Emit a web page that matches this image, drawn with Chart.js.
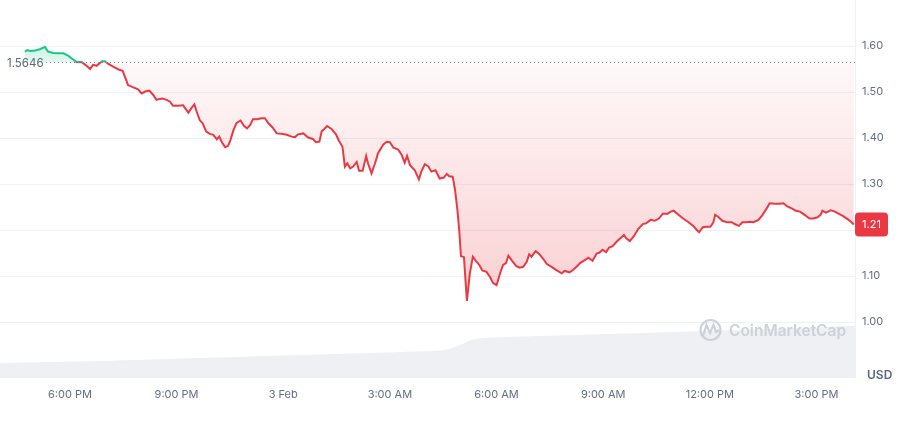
<!DOCTYPE html>
<html><head><meta charset="utf-8">
<script src="https://cdn.jsdelivr.net/npm/chart.js@4.4.1/dist/chart.umd.min.js"></script>
<style>html,body{margin:0;padding:0;background:#fff}#wrap{width:905px;height:426px;position:relative}</style>
</head><body><div id="wrap"><canvas id="c" width="905" height="426"></canvas></div>
<script>
// minutes since 2 Feb 00:00
const minutes = [1004,1008,1013,1021,1029,1038,1043,1052,1060,1069,1077,1086,1091,1100,1108,1114,1119,1125,1134,1139,1145,1153,1162,1169,1175,1178,1187,1195,1201,1207,1214,1221,1226,1232,1236,1243,1249,1254,1263,1271,1280,1285,1290,1294,1299,1304,1310,1316,1322,1328,1332,1336,1342,1347,1351,1356,1361,1368,1374,1379,1384,1389,1396,1403,1409,1415,1422,1429,1437,1446,1454,1460,1465,1474,1482,1490,1495,1501,1505,1509,1514,1522,1529,1534,1540,1544,1548,1553,1558,1564,1568,1574,1580,1583,1589,1595,1600,1609,1615,1620,1626,1634,1640,1645,1649,1654,1662,1669,1673,1679,1685,1690,1697,1704,1711,1716,1720,1726,1730,1734,1737,1740,1745,1750,1755,1760,1765,1771,1776,1783,1789,1794,1800,1806,1811,1816,1820,1825,1833,1839,1845,1851,1855,1859,1866,1872,1879,1885,1893,1901,1910,1915,1923,1929,1935,1941,1947,1955,1962,1969,1974,1979,1985,1990,1996,2003,2009,2015,2019,2025,2032,2039,2047,2053,2060,2067,2074,2081,2088,2094,2099,2107,2115,2123,2132,2138,2142,2148,2154,2161,2166,2169,2174,2181,2189,2197,2202,2209,2215,2221,2228,2234,2242,2249,2256,2261,2270,2278,2284,2290,2298,2305,2312,2320,2328,2334,2341,2347,2350,2356,2364,2371,2378,2385,2393,2399,2403];
const prices = [1.588,1.591,1.589,1.590,1.593,1.598,1.588,1.585,1.584,1.584,1.579,1.570,1.565,1.565,1.557,1.550,1.559,1.557,1.567,1.567,1.561,1.555,1.549,1.546,1.526,1.515,1.510,1.506,1.497,1.501,1.503,1.493,1.483,1.485,1.486,1.483,1.479,1.470,1.470,1.471,1.455,1.465,1.473,1.457,1.439,1.432,1.414,1.409,1.407,1.397,1.403,1.392,1.380,1.383,1.396,1.417,1.432,1.438,1.426,1.421,1.428,1.441,1.441,1.443,1.443,1.432,1.423,1.410,1.409,1.407,1.403,1.402,1.408,1.410,1.401,1.398,1.391,1.392,1.415,1.419,1.426,1.419,1.408,1.394,1.381,1.338,1.345,1.334,1.338,1.348,1.329,1.329,1.361,1.345,1.323,1.345,1.367,1.386,1.392,1.391,1.379,1.375,1.363,1.346,1.361,1.341,1.330,1.310,1.327,1.343,1.338,1.327,1.330,1.312,1.314,1.322,1.317,1.316,1.287,1.243,1.200,1.143,1.141,1.046,1.106,1.142,1.133,1.124,1.112,1.109,1.098,1.085,1.080,1.106,1.124,1.128,1.144,1.135,1.122,1.118,1.120,1.131,1.147,1.142,1.154,1.148,1.137,1.126,1.120,1.113,1.106,1.111,1.108,1.113,1.120,1.128,1.133,1.140,1.133,1.149,1.151,1.157,1.152,1.162,1.165,1.175,1.182,1.189,1.182,1.176,1.187,1.202,1.213,1.215,1.222,1.220,1.225,1.236,1.235,1.240,1.242,1.233,1.225,1.218,1.209,1.200,1.195,1.206,1.207,1.207,1.217,1.233,1.229,1.220,1.217,1.217,1.213,1.209,1.217,1.217,1.218,1.217,1.222,1.233,1.247,1.258,1.257,1.257,1.258,1.252,1.247,1.242,1.240,1.233,1.225,1.225,1.227,1.233,1.242,1.238,1.243,1.240,1.235,1.230,1.223,1.217,1.212];
const volMinutes = [962,1131,1299,1468,1637,1713,1738,1763,1806,1974,2143,2312,2405];
const volumes = [4.0,4.5,5.3,6.1,6.9,7.4,8.7,10.3,10.8,11.6,12.4,13.2,13.8];
const tickMinutes = [1080,1260,1440,1620,1800,1980,2160,2340];
const tickLabels = ["6:00 PM","9:00 PM","3 Feb","3:00 AM","6:00 AM","9:00 AM","12:00 PM","3:00 PM"];
const priceTicks = [1.00,1.10,1.20,1.30,1.40,1.50,1.60];
const basePrice = 1.5646;
const baseLabel = "1.5646";
const lastLabel = "1.21";
const currency = "USD";
const watermark = "CoinMarketCap";

const GREEN = '#16c784', RED = '#ea3943';
Chart.defaults.font.family = 'Inter, "Noto Sans", sans-serif';

function splitGradient(chart, alphaMode) {
  const {chartArea, scales, ctx} = chart;
  if (!chartArea) return alphaMode ? 'rgba(234,57,67,0.1)' : RED;
  const top = chartArea.top, bottom = chartArea.bottom;
  const yb = scales.y.getPixelForValue(basePrice);
  const s = Math.min(1, Math.max(0, (yb - top) / (bottom - top)));
  const g = ctx.createLinearGradient(0, top, 0, bottom);
  if (!alphaMode) {
    g.addColorStop(0, GREEN); g.addColorStop(s, GREEN);
    g.addColorStop(s, RED); g.addColorStop(1, RED);
  } else {
    const ylow = scales.y.getPixelForValue(1.04);
    const s2 = Math.min(1, (ylow - top) / (bottom - top));
    g.addColorStop(0, 'rgba(22,199,132,0.45)');
    g.addColorStop(s, 'rgba(22,199,132,0.12)');
    g.addColorStop(s, 'rgba(234,57,67,0.03)');
    g.addColorStop(s2, 'rgba(234,57,67,0.24)');
    g.addColorStop(1, 'rgba(234,57,67,0.24)');
  }
  return g;
}

const overlay = {
  id: 'overlay',
  afterDatasetsDraw(chart) {
    const {ctx, chartArea, scales} = chart;
    const yb = scales.y.getPixelForValue(basePrice);
    ctx.save();
    // dotted baseline
    ctx.strokeStyle = '#8d95a3';
    ctx.lineWidth = 1;
    ctx.setLineDash([1, 3]);
    ctx.beginPath();
    ctx.moveTo(46, Math.round(yb) + 0.5);
    ctx.lineTo(chartArea.right, Math.round(yb) + 0.5);
    ctx.stroke();
    ctx.setLineDash([]);
    // baseline label
    ctx.fillStyle = '#58667e';
    ctx.font = '11.5px Inter, sans-serif';
    ctx.textBaseline = 'middle';
    ctx.textAlign = 'left';
    ctx.fillText(baseLabel, 7, yb + 1);
    // watermark
    ctx.strokeStyle = '#cdd1d8';
    ctx.lineWidth = 2.2;
    ctx.beginPath();
    ctx.arc(710.5, 330, 10, 0, Math.PI * 2);
    ctx.stroke();
    ctx.beginPath();
    ctx.moveTo(703, 336); ctx.lineTo(706.5, 325); ctx.lineTo(710, 333); ctx.lineTo(713.5, 325); ctx.lineTo(716, 332); ctx.lineTo(719, 330);
    ctx.stroke();
    ctx.fillStyle = '#cdd1d8';
    ctx.font = '600 15.5px Inter, sans-serif';
    ctx.textBaseline = 'middle';
    ctx.fillText(watermark, 729, 331);
    // last price box
    const lastY = scales.y.getPixelForValue(prices[prices.length - 1]);
    const bx = chartArea.right, bw = 33, bh = 24, by = lastY - bh / 2;
    ctx.fillStyle = RED;
    ctx.beginPath();
    ctx.roundRect(bx, by, bw, bh, 4);
    ctx.fill();
    ctx.fillStyle = '#ffffff';
    ctx.font = '11px Inter, sans-serif';
    ctx.textAlign = 'center';
    ctx.fillText(lastLabel, bx + bw / 2, lastY + 0.5);
    // currency
    ctx.fillStyle = '#58667e';
    ctx.font = '600 12px Inter, sans-serif';
    ctx.textAlign = 'left';
    ctx.fillText(currency, 867, 375);
    ctx.restore();
  }
};

new Chart(document.getElementById('c'), {
  type: 'line',
  data: {
    datasets: [
      {
        label: 'Price',
        data: minutes.map((m, i) => ({x: m, y: prices[i]})),
        yAxisID: 'y',
        borderColor: (c) => splitGradient(c.chart, false),
        backgroundColor: (c) => splitGradient(c.chart, true),
        borderWidth: 2,
        pointRadius: 0,
        tension: 0,
        fill: {target: {value: basePrice}}
      },
      {
        label: 'Volume',
        data: volMinutes.map((m, i) => ({x: m, y: volumes[i]})),
        yAxisID: 'yv',
        borderWidth: 0,
        borderColor: 'rgba(0,0,0,0)',
        backgroundColor: '#eef0f3',
        pointRadius: 0,
        tension: 0.3,
        fill: 'origin'
      }
    ]
  },
  options: {
    responsive: false,
    animation: false,
    layout: {padding: 0},
    plugins: {legend: {display: false}, tooltip: {enabled: false}},
    scales: {
      x: {
        type: 'linear',
        min: 962, max: 2405,
        afterBuildTicks: (s) => { s.ticks = tickMinutes.map(v => ({value: v})); },
        afterFit: (s) => { s.height = 48; s.paddingLeft = 0; s.paddingRight = 0; },
        ticks: {
          autoSkip: false, maxRotation: 0, padding: 10,
          color: '#616e85', font: {size: 11},
          callback: (v) => tickLabels[tickMinutes.indexOf(v)]
        },
        grid: {display: false, drawTicks: false},
        border: {display: false}
      },
      y: {
        position: 'right',
        min: 0.8783, max: 1.70,
        afterBuildTicks: (s) => { s.ticks = priceTicks.map(v => ({value: v})); },
        afterFit: (s) => { s.width = 50; s.paddingTop = 0; s.paddingBottom = 0; },
        ticks: {
          padding: 7, color: '#616e85', font: {size: 11},
          callback: (v) => Number(v).toFixed(2)
        },
        grid: {color: '#eff1f4', drawTicks: false},
        border: {display: true, color: '#eff1f4'}
      },
      yv: {display: false, min: 0, max: 100}
    }
  },
  plugins: [overlay]
});
</script>
</body></html>
